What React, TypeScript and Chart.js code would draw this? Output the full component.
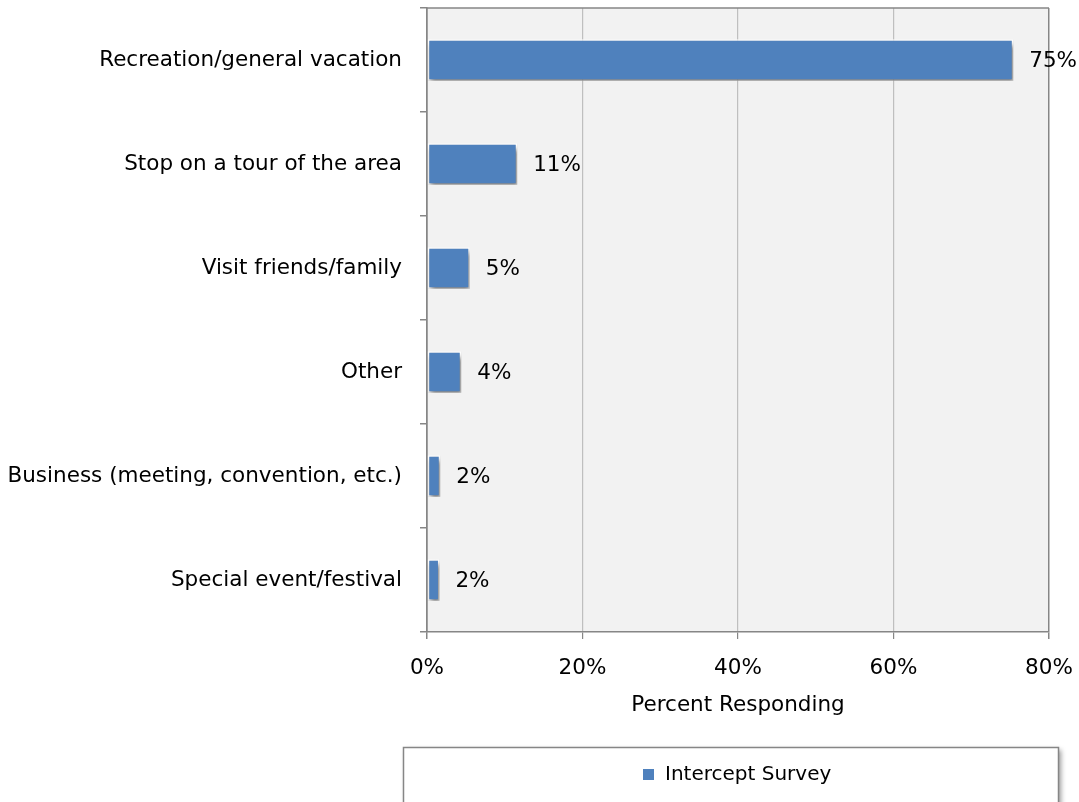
import React, { useEffect, useRef } from "react";
import { Chart, registerables } from "chart.js";

Chart.register(...registerables);

const categories = [
  "Recreation/general vacation",
  "Stop on a tour of the area",
  "Visit friends/family",
  "Other",
  "Business (meeting, convention, etc.)",
  "Special event/festival",
];
const interceptSurvey = [75.4, 11.6, 5.5, 4.4, 1.7, 1.6];
const valueLabels = ["75%", "11%", "5%", "4%", "2%", "2%"];
const xTickValues = [0, 20, 40, 60, 80];
const seriesName = "Intercept Survey";
const axisTitle = "Percent Responding";

const FONT = "'DejaVu Sans', 'Open Sans', sans-serif";
const FS = 21.5;
const AXIS = "#868686";
const GRID = "#bfbfbf";
const BAR = "#4f81bd";

export default function App() {
  const ref = useRef<HTMLCanvasElement | null>(null);

  useEffect(() => {
    if (!ref.current) return;

    const plotBg = {
      id: "plotBg",
      beforeDraw(chart: any) {
        const { ctx, chartArea: a } = chart;
        ctx.save();
        ctx.fillStyle = "#f2f2f2";
        ctx.fillRect(a.left, a.top, a.right - a.left, a.bottom - a.top);
        ctx.restore();
      },
      afterDraw(chart: any) {
        const { ctx, chartArea: a } = chart;
        ctx.save();
        ctx.strokeStyle = AXIS;
        ctx.lineWidth = 1.5;
        ctx.beginPath();
        ctx.moveTo(a.left, a.top);
        ctx.lineTo(a.right, a.top);
        ctx.stroke();
        ctx.restore();
      },
    };

    const barShadow = {
      id: "barShadow",
      beforeDatasetsDraw(chart: any) {
        const ctx = chart.ctx;
        ctx.save();
        ctx.shadowColor = "rgba(0,0,0,0.5)";
        ctx.shadowOffsetX = 2;
        ctx.shadowOffsetY = 4;
        ctx.shadowBlur = 5;
      },
      afterDatasetsDraw(chart: any) {
        chart.ctx.restore();
        const ctx = chart.ctx;
        const meta = chart.getDatasetMeta(0);
        ctx.save();
        ctx.font = `${FS}px ${FONT}`;
        ctx.fillStyle = "#000";
        ctx.textAlign = "left";
        ctx.textBaseline = "middle";
        meta.data.forEach((el: any, i: number) => {
          ctx.fillText(valueLabels[i], el.x + 16, el.y + 1);
        });
        ctx.restore();
      },
    };

    const legendBox = {
      id: "legendBox",
      afterDraw(chart: any) {
        const ctx = chart.ctx;
        ctx.save();
        ctx.shadowColor = "rgba(0,0,0,0.4)";
        ctx.shadowOffsetX = 3;
        ctx.shadowOffsetY = 3;
        ctx.shadowBlur = 5;
        ctx.fillStyle = "#fff";
        ctx.fillRect(403, 747, 655, 80);
        ctx.restore();
        ctx.save();
        ctx.strokeStyle = AXIS;
        ctx.lineWidth = 1.5;
        ctx.strokeRect(403.5, 747.5, 655, 80);
        ctx.fillStyle = BAR;
        ctx.fillRect(643, 769, 11, 11);
        ctx.fillStyle = "#000";
        ctx.font = `20px ${FONT}`;
        ctx.textAlign = "left";
        ctx.textBaseline = "middle";
        ctx.fillText(seriesName, 665, 775);
        ctx.restore();
      },
    };

    const chart = new Chart(ref.current, {
      type: "bar",
      data: {
        labels: categories,
        datasets: [
          {
            label: seriesName,
            data: interceptSurvey,
            backgroundColor: BAR,
            borderColor: "#ffffff",
            borderWidth: 1.5,
            borderSkipped: false,
            categoryPercentage: 1,
            barPercentage: 0.4,
          },
        ],
      },
      options: {
        indexAxis: "y",
        responsive: false,
        animation: false,
        layout: { padding: { left: 0, top: 8, right: 30, bottom: 80 } },
        plugins: {
          legend: { display: false },
          tooltip: { enabled: false },
        },
        scales: {
          x: {
            min: 0,
            max: 80,
            afterBuildTicks: (s: any) => {
              s.ticks = xTickValues.map((v) => ({ value: v }));
            },
            afterFit: (s: any) => {
              s.height = 90;
              s.paddingLeft = 0;
              s.paddingRight = 0;
            },
            ticks: {
              callback: (v: any) => `${v}%`,
              color: "#000",
              font: { family: FONT, size: FS },
              padding: 17,
            },
            grid: {
              color: (c: any) =>
                c.tick && (c.tick.value === 0 || c.tick.value === 80) ? AXIS : GRID,
              lineWidth: (c: any) =>
                c.tick && (c.tick.value === 0 || c.tick.value === 80) ? 1.5 : 1.2,
              tickColor: AXIS,
              tickLength: 7,
            },
            border: { color: AXIS, width: 1.5 },
            title: {
              display: true,
              text: axisTitle,
              color: "#000",
              font: { family: FONT, size: FS },
              padding: { top: 0, bottom: 4 },
            },
          },
          y: {
            afterFit: (s: any) => {
              s.width = 427;
              s.paddingTop = 0;
              s.paddingBottom = 0;
            },
            ticks: {
              color: "#000",
              font: { family: FONT, size: FS },
              padding: 18,
            },
            grid: {
              offset: true,
              drawOnChartArea: false,
              color: AXIS,
              tickColor: AXIS,
              tickLength: 7,
              lineWidth: 1.5,
            },
            border: { color: AXIS, width: 1.5 },
          },
        },
      },
      plugins: [plotBg, barShadow, legendBox],
    } as any);

    return () => chart.destroy();
  }, []);

  return (
    <div style={{ position: "absolute", left: 0, top: 0, width: 1079, height: 802, background: "#fff" }}>
      <canvas ref={ref} width={1079} height={802} style={{ display: "block" }} />
    </div>
  );
}
